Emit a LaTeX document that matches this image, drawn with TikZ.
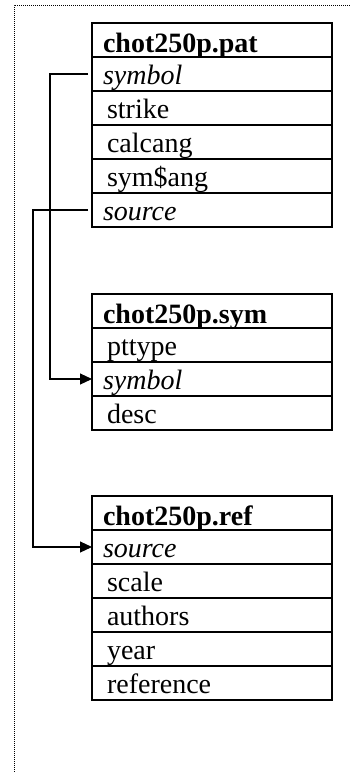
\documentclass[tikz,border=0pt]{standalone}
\usepackage{fontspec}
\setmainfont{Liberation Serif}
\usetikzlibrary{arrows.meta}
\begin{document}
\begin{tikzpicture}[x=1pt,y=-1pt,
  cell/.style={draw, line width=1.3pt, outer sep=0pt, minimum width=240pt, minimum height=34pt,
    inner ysep=0pt, text depth=7pt, text height=27pt, anchor=north west,
    font=\fontsize{28}{28}\selectfont, text width=218pt, align=left, inner xsep=11pt},
  titlecell/.style={cell, font=\fontsize{28}{28}\selectfont\bfseries, text depth=5pt, text height=29pt, inner xsep=10pt},
  itcell/.style={cell, font=\fontsize{28}{28}\selectfont\itshape, inner xsep=8pt},
  conn/.style={line width=1.1pt},
  arr/.style={conn, -{Triangle[length=12pt,width=11pt]}},
  frame/.style={line width=1pt, densely dotted}
]
\useasboundingbox (0,0) rectangle (350,772);
\draw[frame] (14,772) -- (14,5) -- (350,5);

% table 1
\node[titlecell] (pat) at (92,23) {chot250p.pat};
\node[itcell] (patsymbol) at (pat.south west) {symbol};
\node[cell] (patstrike) at (patsymbol.south west) {\hspace*{4pt}strike};
\node[cell] (patcalcang) at (patstrike.south west) {\hspace*{4pt}calcang};
\node[cell] (patsymang) at (patcalcang.south west) {\hspace*{4pt}sym\$ang};
\node[itcell] (patsource) at (patsymang.south west) {source};

% table 2
\node[titlecell] (sym) at (92,294) {chot250p.sym};
\node[cell] (sympttype) at (sym.south west) {\hspace*{4pt}pttype};
\node[itcell] (symsymbol) at (sympttype.south west) {symbol};
\node[cell] (symdesc) at (symsymbol.south west) {\hspace*{4pt}desc};

% table 3
\node[titlecell] (ref) at (92,496) {chot250p.ref};
\node[itcell] (refsource) at (ref.south west) {source};
\node[cell] (refscale) at (refsource.south west) {\hspace*{4pt}scale};
\node[cell] (refauthors) at (refscale.south west) {\hspace*{4pt}authors};
\node[cell] (refyear) at (refauthors.south west) {\hspace*{4pt}year};
\node[cell] (refreference) at (refyear.south west) {\hspace*{4pt}reference};

% connectors
\coordinate (k1) at (50,200);
\coordinate (k2) at (33,400);
\draw[arr] ([xshift=-4pt]patsymbol.west) -| (k1) |- (symsymbol.west);
\draw[arr] ([xshift=-4pt]patsource.west) -| (k2) |- (refsource.west);
\end{tikzpicture}
\end{document}
